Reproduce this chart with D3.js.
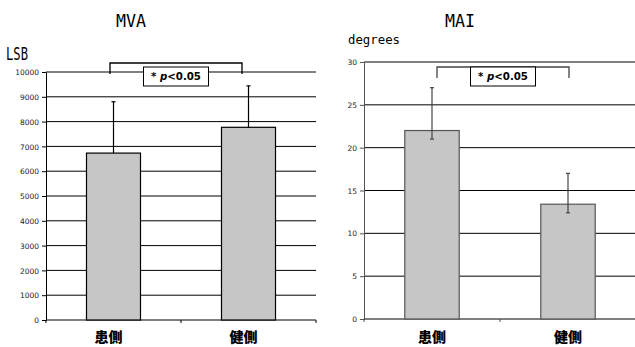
<!DOCTYPE html>
<html>
<head>
<meta charset="utf-8">
<script src="https://cdn.jsdelivr.net/npm/d3@7"></script>
<style>
  body { margin: 0; background: #fff; }
  svg { display: block; }
  .tick-label { font-family: "DejaVu Sans", Verdana, sans-serif; font-size: 7.5px; fill: #222; }
  .cat { font-family: "Noto Sans CJK JP", sans-serif; font-weight: 900; font-size: 14px; fill: #000; }
  .title { font-family: "DejaVu Sans Mono", monospace; font-size: 18px; fill: #000; }
  .unit { font-family: "DejaVu Sans Mono", monospace; font-size: 13px; fill: #000; }
  .pval { font-family: "DejaVu Sans", sans-serif; font-weight: bold; font-size: 10px; fill: #000; }
</style>
</head>
<body>
<div id="wrapper"></div>
<script>
// data
const categories = ["患側", "健側"];

const mvaMean = [6730, 7770];
const mvaErrPlus = [2070, 1670];
const mvaErrMinus = [0, 0];          // lower bars hidden in the original
const mvaTicks = [0, 1000, 2000, 3000, 4000, 5000, 6000, 7000, 8000, 9000, 10000];

const maiMean = [22.0, 13.4];
const maiErrPlus = [5.0, 3.6];
const maiErrMinus = [1.0, 1.0];
const maiTicks = [0, 5, 10, 15, 20, 25, 30];

const sigLabel = "p";

const width = 635, height = 347;

const svg = d3.select("#wrapper")
              .append("svg")
              .attr("width", width)
              .attr("height", height);

function drawChart(c) {
  const x = d3.scaleBand().domain(categories).range([c.x0, c.x1]);
  const y = d3.scaleLinear().domain([0, c.max]).range([c.y0, c.y1]);
  const g = svg.append("g");

  // gridlines
  g.selectAll(".grid")
   .data(c.ticks.filter(t => t > 0))
   .enter().append("line")
     .attr("x1", c.x0).attr("x2", c.x1)
     .attr("y1", d => y(d)).attr("y2", d => y(d))
     .style("stroke", "#000").style("stroke-width", 1);

  // y axis
  const yAxis = d3.axisLeft(y).tickValues(c.ticks).tickFormat(d3.format("d"))
                  .tickSize(4).tickSizeOuter(0);
  const ya = g.append("g").attr("transform", "translate(" + c.x0 + ",0)").call(yAxis);
  ya.attr("font-size", null).attr("font-family", null);
  ya.select(".domain").style("stroke", c.axisColor);
  ya.selectAll(".tick line").style("stroke", c.axisColor);
  ya.selectAll(".tick text").attr("class", "tick-label").attr("x", -7).attr("dy", "0.35em");

  // x axis
  const xa = g.append("g").attr("transform", "translate(0," + c.y0 + ")");
  xa.append("line").attr("x1", c.x0).attr("x2", c.x1).attr("y1", 0).attr("y2", 0)
    .style("stroke", "#000");
  xa.selectAll(".xt")
    .data([c.x0].concat(categories.map(d => x(d) + x.bandwidth())))
    .enter().append("line")
      .attr("x1", d => d).attr("x2", d => d).attr("y1", 0).attr("y2", 3)
      .style("stroke", c.axisColor);

  // bars
  const bw = x.bandwidth() * 0.4;
  g.selectAll(".bar")
   .data(categories)
   .enter().append("rect")
     .attr("x", d => x(d) + (x.bandwidth() - bw) / 2)
     .attr("y", (d, i) => y(c.mean[i]))
     .attr("width", bw)
     .attr("height", (d, i) => y(0) - y(c.mean[i]))
     .style("fill", "#c6c6c6")
     .style("stroke", c.barStroke)
     .style("stroke-width", 1.2);

  // error bars
  const eb = g.selectAll(".err").data(categories).enter().append("g")
              .attr("transform", d => "translate(" + (x(d) + x.bandwidth() / 2) + ",0)");
  eb.append("line")
    .attr("y1", (d, i) => y(c.mean[i] - c.minus[i]))
    .attr("y2", (d, i) => y(c.mean[i] + c.plus[i]))
    .style("stroke", c.errColor).style("stroke-width", 1.2);
  eb.append("line")
    .attr("x1", -2).attr("x2", 2)
    .attr("y1", (d, i) => y(c.mean[i] + c.plus[i]))
    .attr("y2", (d, i) => y(c.mean[i] + c.plus[i]))
    .style("stroke", c.errColor).style("stroke-width", 1.2);
  eb.filter((d, i) => c.minus[i] > 0).append("line")
    .attr("x1", -2).attr("x2", 2)
    .attr("y1", (d, i) => y(c.mean[i] - c.minus[i]))
    .attr("y2", (d, i) => y(c.mean[i] - c.minus[i]))
    .style("stroke", c.errColor).style("stroke-width", 1.2);

  // category labels
  g.selectAll(".cat")
   .data(categories)
   .enter().append("text")
     .attr("class", "cat")
     .attr("x", d => x(d) + x.bandwidth() / 2 + c.labelDx)
     .attr("y", 342)
     .attr("text-anchor", "middle")
     .text(d => d);

  // title + unit
  g.append("text").attr("class", "title")
   .attr("x", c.titleX).attr("y", 27).attr("text-anchor", "middle")
   .attr("textLength", 30).attr("lengthAdjust", "spacingAndGlyphs")
   .text(c.title);
  g.append("text").attr("class", "unit")
   .attr("x", c.unitX).attr("y", c.unitY)
   .attr("textLength", c.unitW).attr("lengthAdjust", "spacingAndGlyphs")
   .style("font-size", c.unitSize)
   .text(c.unit);

  // significance bracket
  const bx0 = x(categories[0]) + x.bandwidth() / 2 + c.brDx[0];
  const bx1 = x(categories[1]) + x.bandwidth() / 2 + c.brDx[1];
  g.append("path")
   .attr("d", "M" + bx0 + "," + c.brY1 + "V" + c.brY0 + "H" + bx1 + "V" + c.brY1)
   .style("fill", "none").style("stroke", c.errColor).style("stroke-width", 1.3);
  const bxm = (bx0 + bx1) / 2;
  g.append("rect")
   .attr("x", bxm - 32.5).attr("y", 67).attr("width", 65).attr("height", 19)
   .style("fill", "#fff").style("stroke", "#000").style("stroke-width", 1);
  const t = g.append("text").attr("class", "pval")
   .attr("x", bxm - 25).attr("y", 80)
   .attr("textLength", 50).attr("lengthAdjust", "spacingAndGlyphs");
  t.append("tspan").text("* ");
  t.append("tspan").style("font-style", "italic").text(sigLabel);
  t.append("tspan").text("<0.05");
}

drawChart({
  x0: 46, x1: 316, y0: 320, y1: 72, max: 10000, ticks: mvaTicks,
  mean: mvaMean, plus: mvaErrPlus, minus: mvaErrMinus,
  barStroke: "#000", errColor: "#000", axisColor: "#000", labelDx: -5,
  title: "MVA", titleX: 131, unit: "LSB", unitX: 6, unitY: 60, unitW: 22, unitSize: "17px",
  brY0: 63, brY1: 74, brDx: [-3.5, -6.5]
});

drawChart({
  x0: 364, x1: 636, y0: 319, y1: 62, max: 30, ticks: maiTicks,
  mean: maiMean, plus: maiErrPlus, minus: maiErrMinus,
  barStroke: "#555", errColor: "#444", axisColor: "#555", labelDx: 0,
  title: "MAI", titleX: 460, unit: "degrees", unitX: 348, unitY: 44, unitW: 52, unitSize: "13px",
  brY0: 67, brY1: 78, brDx: [5, 1]
});
</script>
</body>
</html>
